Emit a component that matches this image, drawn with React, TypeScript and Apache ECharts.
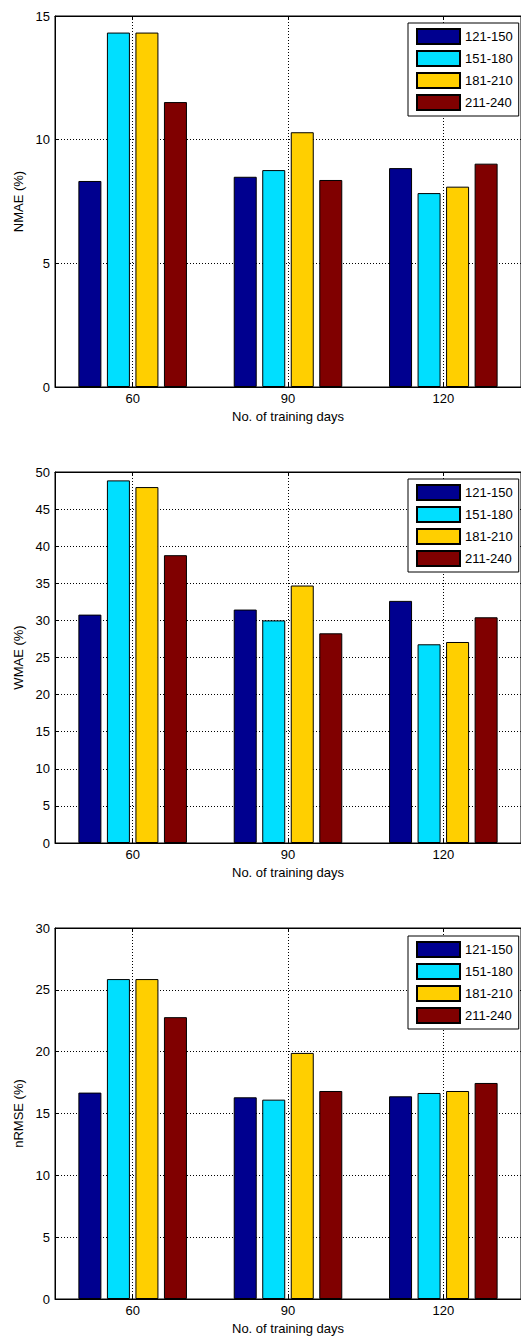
import React, { useEffect, useRef } from "react";
import * as echarts from "echarts";

const categories = ["60", "90", "120"];
const seriesNames = ["121-150", "151-180", "181-210", "211-240"];
const seriesColors = ["#00008F", "#00DFFF", "#FFCF00", "#800000"];

// NMAE (%)
const nmae121 = [8.33, 8.5, 8.85];
const nmae151 = [14.33, 8.77, 7.84];
const nmae181 = [14.33, 10.3, 8.1];
const nmae211 = [11.52, 8.37, 9.03];

// WMAE (%)
const wmae121 = [30.78, 31.46, 32.63];
const wmae151 = [48.87, 30.0, 26.78];
const wmae181 = [47.97, 34.7, 27.09];
const wmae211 = [38.79, 28.26, 30.42];

// nRMSE (%)
const nrmse121 = [16.69, 16.31, 16.39];
const nrmse151 = [25.87, 16.12, 16.66];
const nrmse181 = [25.87, 19.9, 16.82];
const nrmse211 = [22.79, 16.82, 17.47];

const yNames = ["NMAE (%)", "WMAE (%)", "nRMSE (%)"];
const yMax = [15, 50, 30];
const yInterval = [5, 5, 5];
const xName = "No. of training days";
const gridLineCats = ["", "60", "", "90", "", "120", ""];

const panels = [
  [nmae121, nmae151, nmae181, nmae211],
  [wmae121, wmae151, wmae181, wmae211],
  [nrmse121, nrmse151, nrmse181, nrmse211],
];

const FONT = 'Arial, "Liberation Sans", sans-serif';
const FS = 13;
const gridTops = [16, 472, 928];
const gridHeight = 371;
const legendTops = [23, 479, 936];

export default function App() {
  const ref = useRef<HTMLDivElement>(null);
  useEffect(() => {
    if (!ref.current) return;
    const chart = echarts.init(ref.current, undefined, { renderer: "svg" });
    const dotted = { color: "#000", width: 1, type: [1, 2] as any };
    const grid: any[] = [];
    const xAxis: any[] = [];
    const yAxis: any[] = [];
    const legend: any[] = [];
    const series: any[] = [];
    panels.forEach((panel, p) => {
      grid.push({
        left: 55,
        top: gridTops[p],
        width: 471,
        height: gridHeight,
        show: true,
        borderColor: "#000",
        borderWidth: 1,
        backgroundColor: "#fff",
      });
      xAxis.push({
        type: "category",
        gridIndex: p,
        data: categories,
        position: "bottom",
        boundaryGap: true,
        axisLine: { lineStyle: { color: "#000", width: 1 } },
        axisTick: { show: true, inside: true, length: 4, alignWithLabel: true, lineStyle: { color: "#000" } },
        axisLabel: { color: "#000", fontSize: FS, fontFamily: FONT, margin: 5 },
        splitLine: { show: false },
        name: xName,
        nameLocation: "middle",
        nameGap: 23,
        nameTextStyle: { color: "#000", fontSize: FS, fontFamily: FONT },
      });
      xAxis.push({
        type: "category",
        gridIndex: p,
        data: gridLineCats,
        position: "top",
        boundaryGap: false,
        axisLine: { show: true, lineStyle: { color: "#000", width: 1 } },
        axisTick: {
          show: true,
          inside: true,
          length: 4,
          interval: (i: number) => i % 2 === 1,
          lineStyle: { color: "#000" },
        },
        axisLabel: { show: false },
        splitLine: { show: true, interval: (i: number) => i % 2 === 1, lineStyle: dotted },
      });
      yAxis.push({
        type: "value",
        gridIndex: p,
        min: 0,
        max: yMax[p],
        interval: yInterval[p],
        axisLine: { show: true, lineStyle: { color: "#000", width: 1 } },
        axisTick: { show: true, inside: true, length: 4, lineStyle: { color: "#000" } },
        axisLabel: { color: "#000", fontSize: FS, fontFamily: FONT, margin: 5 },
        splitLine: { show: true, lineStyle: dotted },
        name: yNames[p],
        nameLocation: "middle",
        nameGap: 29,
        nameTextStyle: { color: "#000", fontSize: FS, fontFamily: FONT },
      });
      legend.push({
        orient: "vertical",
        left: 408,
        top: legendTops[p],
        data: seriesNames,
        itemWidth: 43,
        itemHeight: 15,
        itemGap: 5,
        padding: [5, 6, 5, 8],
        borderColor: "#000",
        borderWidth: 1,
        backgroundColor: "#fff",
        icon: "rect",
        selectedMode: false,
        textStyle: { color: "#000", fontSize: FS, fontFamily: FONT },
        z: 10,
      });
      panel.forEach((vals, s) => {
        series.push({
          type: "bar",
          name: seriesNames[s],
          xAxisIndex: p * 2,
          yAxisIndex: p,
          data: vals,
          barWidth: 23,
          barGap: "24%",
          itemStyle: { color: seriesColors[s], borderColor: "#000", borderWidth: 1 },
        });
      });
    });
    chart.setOption({
      animation: false,
      backgroundColor: "#fff",
      textStyle: { fontFamily: FONT },
      grid,
      xAxis,
      yAxis,
      legend,
      series,
    });
    return () => chart.dispose();
  }, []);
  return (
    <div
      ref={ref}
      style={{ position: "absolute", left: 0, top: 0, width: 521, height: 1340 }}
    />
  );
}
